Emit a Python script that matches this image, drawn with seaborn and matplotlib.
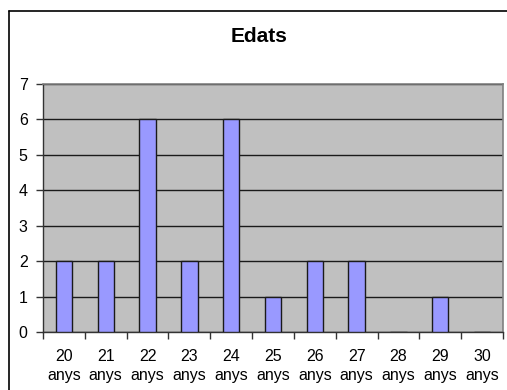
import matplotlib
matplotlib.use("Agg")
import matplotlib.pyplot as plt
from matplotlib.lines import Line2D
from matplotlib.ticker import FixedLocator
import seaborn as sns
import pandas as pd

edats = ["20\nanys", "21\nanys", "22\nanys", "23\nanys", "24\nanys", "25\nanys",
         "26\nanys", "27\nanys", "28\nanys", "29\nanys", "30\nanys"]
recompte = [2, 2, 6, 2, 6, 1, 2, 2, 0, 1, 0]
y_ticks = [0, 1, 2, 3, 4, 5, 6, 7]

sns.set_theme(style="white")
plt.rcParams["font.family"] = ["Liberation Sans", "DejaVu Sans"]

df = pd.DataFrame({"edat": edats, "n": recompte})

fig = plt.figure(figsize=(5.07, 3.90), dpi=100)
ax = fig.add_axes([43 / 507, 1 - 332 / 390, 460 / 507, 248 / 390])
ax.set_facecolor("#C0C0C0")

sns.barplot(data=df, x="edat", y="n", color="#9999FF", edgecolor="#1a1a1a",
            linewidth=1.0, width=0.39, saturation=1, ax=ax, zorder=3)

ax.set_ylim(0, 7)
ax.set_xlim(-0.5, len(edats) - 0.5)
ax.set_yticks(y_ticks)
ax.yaxis.grid(True, color="#1a1a1a", linewidth=1.0, zorder=1)
ax.set_axisbelow(True)
ax.set_xlabel("")
ax.set_ylabel("")
ax.set_title("")

ax.tick_params(axis="y", which="major", length=5, width=1, color="#333333",
               labelsize=11.5, pad=6, left=True, labelcolor="black")
ax.tick_params(axis="x", which="major", length=0, labelsize=11.5, pad=12,
               labelcolor="black")
ax.xaxis.set_minor_locator(FixedLocator([i - 0.5 for i in range(len(edats) + 1)]))
ax.tick_params(axis="x", which="minor", length=5, width=1, color="#333333",
               bottom=True)
for lab in ax.get_xticklabels():
    lab.set_linespacing(1.35)

for side in ["left", "bottom"]:
    ax.spines[side].set_color("#333333")
    ax.spines[side].set_linewidth(1.0)
for side in ["top", "right"]:
    ax.spines[side].set_color("#808080")
    ax.spines[side].set_linewidth(1.2)

fig.text(259 / 507, 1 - 37 / 390, "Edats", ha="center", va="center",
         fontsize=15, fontweight="bold", color="black")

# outer chart frame (top and left edges)
fy = 1 - 10.5 / 390
fx = 8.5 / 507
fig.add_artist(Line2D([fx, 1.0], [fy, fy], transform=fig.transFigure,
                      color="black", linewidth=1.2))
fig.add_artist(Line2D([fx, fx], [0.0, fy], transform=fig.transFigure,
                      color="black", linewidth=1.2))

fig.savefig("out.png", dpi=100, facecolor="white")
